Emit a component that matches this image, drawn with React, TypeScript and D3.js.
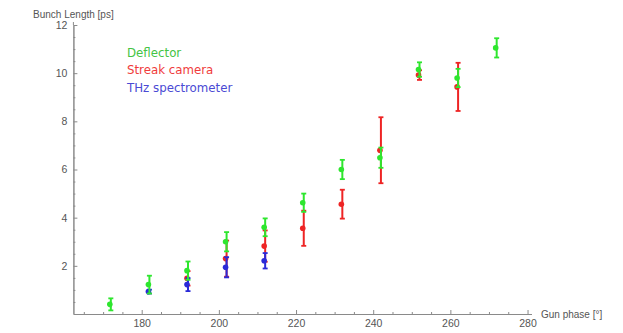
import React, { useRef, useEffect } from "react";
import * as d3 from "d3";

// gun phase [deg] / bunch length [ps] / error [ps]
const deflectorPhase = [172, 182, 192, 202, 212, 222, 232, 242, 252, 262, 272];
const deflectorLength = [0.4, 1.22, 1.8, 3.0, 3.6, 4.62, 6.0, 6.49, 10.15, 9.8, 11.05];
const deflectorErr = [0.25, 0.37, 0.38, 0.4, 0.37, 0.38, 0.4, 0.42, 0.3, 0.38, 0.4];

const streakPhase = [192, 202, 212, 222, 232, 242, 252, 262];
const streakLength = [1.48, 2.3, 2.82, 3.56, 4.56, 6.8, 9.92, 9.43];
const streakErr = [0.3, 0.75, 0.65, 0.73, 0.6, 1.37, 0.2, 1.0];

const thzPhase = [182, 192, 202, 212];
const thzLength = [0.93, 1.22, 1.94, 2.21];
const thzErr = [0.08, 0.27, 0.42, 0.32];

const xMajorTicks = [180, 200, 220, 240, 260, 280];
const yMajorTicks = [2, 4, 6, 8, 10, 12];

const legendLabels = ["Deflector", "Streak camera", "THz spectrometer"];

const App = () => {
  const ref = useRef(null);

  useEffect(() => {
    const svg = d3.select(ref.current);
    svg.selectAll("*").remove();

    const x = d3.scaleLinear().domain([162.3, 281]).range([73.4, 531.4]);
    const y = d3.scaleLinear().domain([0, 12]).range([314, 25]);

    const axisColor = "#8a8a8a";
    const labelColor = "#555";

    // x axis
    const xMinor = d3.range(165, 281, 5).filter((v) => v % 20 !== 0);
    svg
      .append("g")
      .attr("transform", `translate(0,${y(0)})`)
      .call(d3.axisBottom(x).tickValues(xMinor).tickSize(-2).tickSizeOuter(0).tickFormat(() => ""))
      .call((g) => g.selectAll("line, path").attr("stroke", axisColor));
    svg
      .append("g")
      .attr("transform", `translate(0,${y(0)})`)
      .call(d3.axisBottom(x).tickValues(xMajorTicks).tickSize(-4).tickSizeOuter(0).tickPadding(6))
      .call((g) => g.selectAll("line, path").attr("stroke", axisColor))
      .call((g) =>
        g.selectAll("text").attr("fill", labelColor).attr("font-size", 10.5).attr("font-family", "Liberation Sans, Arial")
      );

    // y axis
    const yMinor = d3.range(0.5, 12.01, 0.5).filter((v) => v % 2 !== 0);
    svg
      .append("g")
      .attr("transform", `translate(${x(162.3)},0)`)
      .call(d3.axisLeft(y).tickValues(yMinor).tickSize(-2).tickSizeOuter(0).tickFormat(() => ""))
      .call((g) => g.selectAll("line, path").attr("stroke", axisColor));
    svg
      .append("g")
      .attr("transform", `translate(${x(162.3)},0)`)
      .call(d3.axisLeft(y).tickValues(yMajorTicks).tickSize(-4).tickSizeOuter(0).tickPadding(6))
      .call((g) => g.selectAll("line, path").attr("stroke", axisColor))
      .call((g) =>
        g.selectAll("text").attr("fill", labelColor).attr("font-size", 10.5).attr("font-family", "Liberation Sans, Arial")
      );
    svg
      .append("line")
      .attr("x1", x(162.3))
      .attr("x2", x(162.3))
      .attr("y1", y(12))
      .attr("y2", y(12) - 3)
      .attr("stroke", axisColor);

    // axis labels
    svg
      .append("text")
      .attr("x", x(162.3))
      .attr("y", 18)
      .attr("text-anchor", "middle")
      .attr("font-size", 10)
      .attr("font-family", "Liberation Sans, Arial")
      .attr("fill", labelColor)
      .text("Bunch Length [ps]");
    svg
      .append("text")
      .attr("x", 541)
      .attr("y", y(0) + 4)
      .attr("font-size", 10)
      .attr("font-family", "Liberation Sans, Arial")
      .attr("fill", labelColor)
      .text("Gun phase [°]");

    const series = [
      { px: streakPhase, py: streakLength, err: streakErr, color: "#ee2424" },
      { px: thzPhase, py: thzLength, err: thzErr, color: "#2a2ad8" },
      { px: deflectorPhase, py: deflectorLength, err: deflectorErr, color: "#2ee62e" },
    ];

    series.forEach((s) => {
      const data = s.px.map((p, i) => ({ p, v: s.py[i], e: s.err[i] }));
      const g = svg.append("g");
      const items = g.selectAll("g").data(data).enter().append("g");
      items
        .append("line")
        .attr("x1", (d) => x(d.p))
        .attr("x2", (d) => x(d.p))
        .attr("y1", (d) => y(d.v + d.e))
        .attr("y2", (d) => y(d.v - d.e))
        .attr("stroke", s.color)
        .attr("stroke-width", 2);
      [1, -1].forEach((sign) => {
        items
          .append("line")
          .attr("x1", (d) => x(d.p) - 2.5)
          .attr("x2", (d) => x(d.p) + 2.5)
          .attr("y1", (d) => y(d.v + sign * d.e))
          .attr("y2", (d) => y(d.v + sign * d.e))
          .attr("stroke", s.color)
          .attr("stroke-width", 1.8);
      });
      items
        .append("circle")
        .attr("cx", (d) => x(d.p) - 1)
        .attr("cy", (d) => y(d.v))
        .attr("r", 2.8)
        .attr("fill", s.color);
    });

    // legend
    const legendColors = ["#44c444", "#f03c3c", "#4a4ad4"];
    svg
      .selectAll(".legend")
      .data(legendLabels)
      .enter()
      .append("text")
      .attr("class", "legend")
      .attr("x", 127)
      .attr("y", (d, i) => 56.5 + i * 17.5)
      .attr("font-size", 11.8)
      .attr("font-family", "DejaVu Sans")
      .attr("fill", (d, i) => legendColors[i])
      .text((d) => d);
  }, []);

  return (
    <svg
      ref={ref}
      width={623}
      height={333}
      style={{ position: "absolute", left: 0, top: 0, background: "#fff" }}
    />
  );
};

export default App;
